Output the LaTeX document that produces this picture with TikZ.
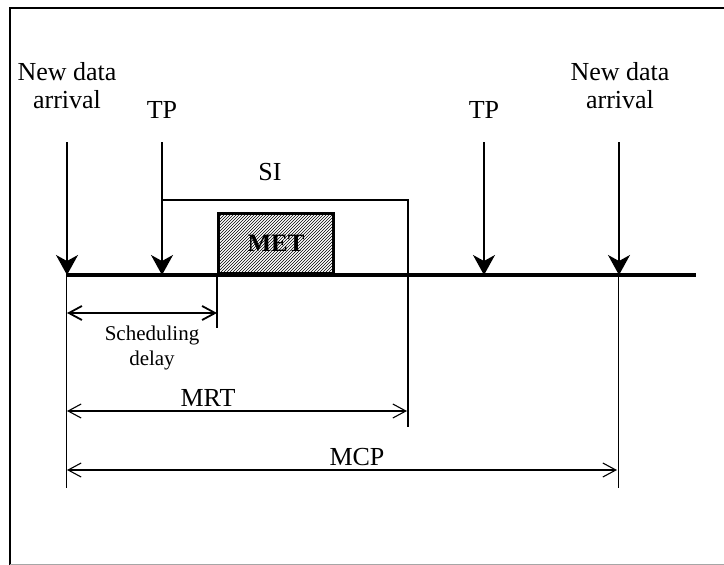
\documentclass[tikz,border=0pt]{standalone}
\usepackage{fontspec}
\setmainfont{Liberation Serif}
\usetikzlibrary{arrows.meta,patterns}
\tikzset{
  lbl/.style={inner sep=0pt, align=center, font=\fontsize{26}{28}\selectfont},
  small/.style={inner sep=0pt, align=center, font=\fontsize{21}{25}\selectfont},
  event/.style={line width=1.5pt, -{Stealth[length=20pt,width=22pt,inset=6pt]}},
  dim/.style={line width=1.1pt, {Straight Barb[length=13pt,width=14pt]}-{Straight Barb[length=13pt,width=14pt]}},
  tick/.style={line width=1pt},
  axis/.style={line width=4pt},
}
\begin{document}
\begin{tikzpicture}[x=1pt,y=-1pt]
\useasboundingbox (0,0) rectangle (724,565);
% frame
\draw[line width=1.5pt] (10,565) -- (10,8) -- (724,8);
\draw[line width=1pt, black!35] (10,564) -- (724,564);
% timeline
\coordinate (t0) at (66,275);
\coordinate (t1) at (696,275);
\draw[axis] (t0) -- (t1);
% MET box
\node[draw, line width=3pt, pattern=north east lines, minimum width=115pt, minimum height=60pt, anchor=south west, inner sep=0pt] (met) at (217,275) {};
\node[lbl, font=\fontsize{25}{27}\selectfont\bfseries] (metl) at (met.center) {MET};
% event arrows
\coordinate (a1top) at (67,142); \coordinate (a1) at (67,275);
\coordinate (p1top) at (162,142); \coordinate (p1) at (162,275);
\coordinate (p2top) at (484,142); \coordinate (p2) at (484,275);
\coordinate (a2top) at (619,142); \coordinate (a2) at (619,275);
\draw[event] (a1top) -- (a1);
\draw[event] (p1top) -- (p1);
\draw[event] (p2top) -- (p2);
\draw[event] (a2top) -- (a2);
% labels
\node[lbl] (nda1) at (67,86) {New data\\arrival};
\node[lbl] (tp1) at (162,110) {TP};
\node[lbl] (tp2) at (484,110) {TP};
\node[lbl] (nda2) at (620,86) {New data\\arrival};
\node[lbl] (si) at (270,172) {SI};
% SI bracket
\coordinate (si0) at (162,200);
\coordinate (si1) at (408,200);
\coordinate (si2) at (408,427);
\draw[tick, line width=1.2pt] (p1top) -- (si0) -- (si1) -- (si2);
% ticks below
\coordinate (l0) at (66,275); \coordinate (l1) at (66,488);
\draw[tick] (l0) -- (l1);
\coordinate (r0) at (618,275); \coordinate (r1) at (618,488);
\draw[tick] (r0) -- (r1);
\coordinate (s0) at (217,275); \coordinate (s1) at (217,328);
\draw[line width=1.5pt] (s0) -- (s1);
% dimensions
\coordinate (sd0) at (67,313); \coordinate (sd1) at (217,313);
\draw[dim, line width=1.8pt] (sd0) -- (sd1);
\node[small] (sdl) at (152,348) {Scheduling\\delay};
\coordinate (mr0) at (67,411); \coordinate (mr1) at (407,411);
\draw[dim] (mr0) -- (mr1);
\node[lbl] (mrt) at (208,398) {MRT};
\coordinate (mc0) at (67,470); \coordinate (mc1) at (617,470);
\draw[dim] (mc0) -- (mc1);
\node[lbl] (mcp) at (357,457) {MCP};
\end{tikzpicture}
\end{document}
